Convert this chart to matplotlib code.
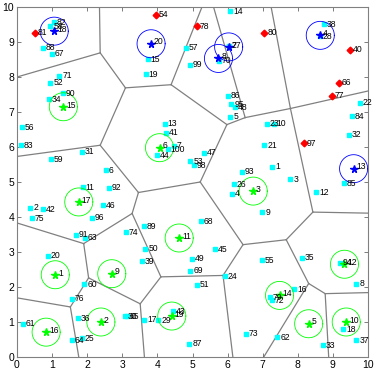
import numpy as np
import matplotlib
matplotlib.use('Agg')
import matplotlib.pyplot as plt

plt.rcParams['font.family'] = ['Liberation Sans', 'DejaVu Sans']

# sensor nodes, id = index + 1
node_x = [7.27, 0.38, 7.79, 6.13, 6.08, 2.54, 4.46, 9.67, 6.99, 7.31,
          1.87, 8.53, 4.21, 6.08, 3.72, 7.90, 3.63, 9.30, 3.67, 0.87,
          7.05, 9.76, 7.12, 5.93, 1.85, 6.17, 6.04, 8.62, 4.03, 3.07,
          1.85, 9.45, 8.72, 0.92, 8.12, 1.73, 9.67, 8.74, 3.56, 9.48,
          4.24, 0.74, 4.44, 3.99, 5.63, 2.45, 5.34, 6.22, 4.99, 3.66,
          5.13, 0.95, 4.94, 3.96, 6.98, 0.14, 4.81, 0.95, 0.97, 1.92,
          0.17, 7.42, 1.93, 1.57, 3.13, 9.16, 1.00, 5.25, 4.94, 5.76,
          1.21, 7.27, 6.53, 3.11, 0.43, 1.57, 8.97, 5.13, 7.20, 7.05,
          0.50, 1.04, 0.11, 9.54, 9.31, 6.01, 4.91, 0.74, 3.61, 1.31,
          1.68, 2.61, 6.41, 9.21, 6.11, 2.14, 8.17, 5.03, 4.92, 4.29]
node_y = [5.43, 4.27, 5.08, 4.67, 6.86, 5.33, 6.04, 2.10, 4.14, 6.67,
          4.85, 4.71, 6.67, 9.88, 8.51, 1.93, 1.07, 0.79, 8.08, 2.89,
          6.05, 7.27, 6.67, 2.31, 0.54, 4.93, 8.89, 9.16, 1.05, 1.17,
          5.86, 6.35, 0.33, 7.36, 2.84, 1.11, 0.48, 9.51, 2.73, 8.78,
          6.41, 4.22, 1.31, 5.76, 3.08, 4.33, 5.84, 7.14, 2.81, 3.10,
          2.07, 7.84, 5.60, 9.78, 2.76, 6.57, 8.84, 9.45, 5.65, 2.08,
          0.95, 0.57, 3.40, 0.48, 1.17, 7.84, 8.67, 3.88, 2.46, 8.46,
          8.03, 1.62, 0.67, 3.57, 3.97, 1.67, 7.46, 9.45, 1.71, 9.27,
          9.27, 9.57, 6.05, 6.88, 4.97, 7.46, 0.38, 8.83, 3.74, 7.54,
          3.50, 4.84, 5.29, 2.70, 7.22, 3.98, 6.11, 5.48, 8.35, 5.93]
dead_ids = [40, 54, 66, 77, 78, 80, 81, 97]

# cluster heads, id = index + 1
ch_x = [1.09, 2.39, 6.73, 8.64, 8.31, 4.06, 6.03, 5.74, 2.70, 9.38,
        4.62, 9.33, 9.59, 7.48, 1.32, 0.83, 1.76, 1.06, 4.41, 3.82]
ch_y = [2.35, 1.00, 4.74, 9.19, 0.95, 5.98, 8.86, 8.53, 2.38, 1.00,
        3.40, 2.65, 5.38, 1.76, 7.15, 0.71, 4.43, 9.31, 1.17, 8.95]
ch_blue = [4, 7, 8, 13, 18, 20]
ch_radius = 0.4

# voronoi vertices and edges
vor_x = [2.37, 3.09, 4.39, 5.98, 6.50, 7.79, 2.37, 5.22, 3.46, 8.43,
         6.44, 7.67, 8.31, 8.78, 5.87, 4.10, 3.28, 1.90, 2.04, 1.52,
         3.51, 2.35, 0.0, 5.27, 5.60, 7.24, 10.0, 0.0, 10.0, 10.0,
         8.88, 7.03, 6.15, 0.0, 0.0, 1.76, 3.63]
vor_y = [8.69, 7.69, 7.78, 6.64, 6.84, 7.10, 6.05, 5.00, 4.70, 4.14,
         3.21, 3.35, 2.10, 1.81, 2.33, 2.29, 4.10, 3.24, 2.26, 1.43,
         1.52, 10.0, 8.00, 10.0, 10.0, 10.0, 7.60, 5.73, 4.11, 1.84,
         0.0, 0.0, 0.0, 3.83, 1.69, 0.0, 0.0]
vor_edges = [(21, 0), (22, 0), (0, 1), (1, 2), (2, 23), (2, 3), (3, 4),
             (4, 24), (4, 5), (5, 25), (5, 26), (5, 9), (1, 6), (6, 27),
             (6, 8), (3, 7), (7, 8), (8, 16), (7, 10), (10, 11), (11, 9),
             (9, 28), (11, 12), (12, 13), (13, 29), (13, 30), (12, 31),
             (10, 14), (14, 32), (14, 15), (15, 16), (16, 17), (17, 33),
             (17, 18), (18, 19), (19, 34), (19, 35), (18, 20), (20, 15),
             (20, 36)]

fig = plt.figure(figsize=(3.74, 3.75), dpi=100)
ax = fig.add_axes([17 / 374, 18 / 375, 351 / 374, 350 / 375])

for a, b in vor_edges:
    ax.plot([vor_x[a], vor_x[b]], [vor_y[a], vor_y[b]], color='0.5', lw=0.9, zorder=1)

nx = np.array(node_x)
ny = np.array(node_y)
dead = np.zeros(len(nx), bool)
dead[np.array(dead_ids) - 1] = True
ax.plot(nx[~dead], ny[~dead], 's', color='cyan', ms=3.0, mec='cyan', zorder=2)
ax.plot(nx[dead], ny[dead], 'D', color='red', ms=3.4, mec='red', zorder=2)
for i in range(len(nx)):
    ax.text(nx[i] + 0.08, ny[i], str(i + 1), fontsize=6.2, va='center', ha='left', zorder=4)

t = np.linspace(0, 2 * np.pi, 100)
for i in range(len(ch_x)):
    c = 'blue' if (i + 1) in ch_blue else (0, 1, 0)
    ax.plot(ch_x[i] + ch_radius * np.cos(t), ch_y[i] + ch_radius * np.sin(t),
            color=c, lw=0.6, zorder=3)
    ax.plot(ch_x[i], ch_y[i], '*', color=c, ms=5.5, zorder=3)
    ax.text(ch_x[i] + 0.08, ch_y[i] + 0.05, str(i + 1), fontsize=6.2, va='center', ha='left', zorder=4)

ax.set_xlim(0, 10)
ax.set_ylim(0, 10)
ax.set_xticks(range(11))
ax.set_yticks(range(11))
ax.tick_params(direction='in', length=3, width=0.6, labelsize=7.5, top=True, right=True,
               color='0.4', pad=2)
for s in ax.spines.values():
    s.set_color('0.5')
    s.set_linewidth(0.8)

fig.savefig('out.png', dpi=100)
